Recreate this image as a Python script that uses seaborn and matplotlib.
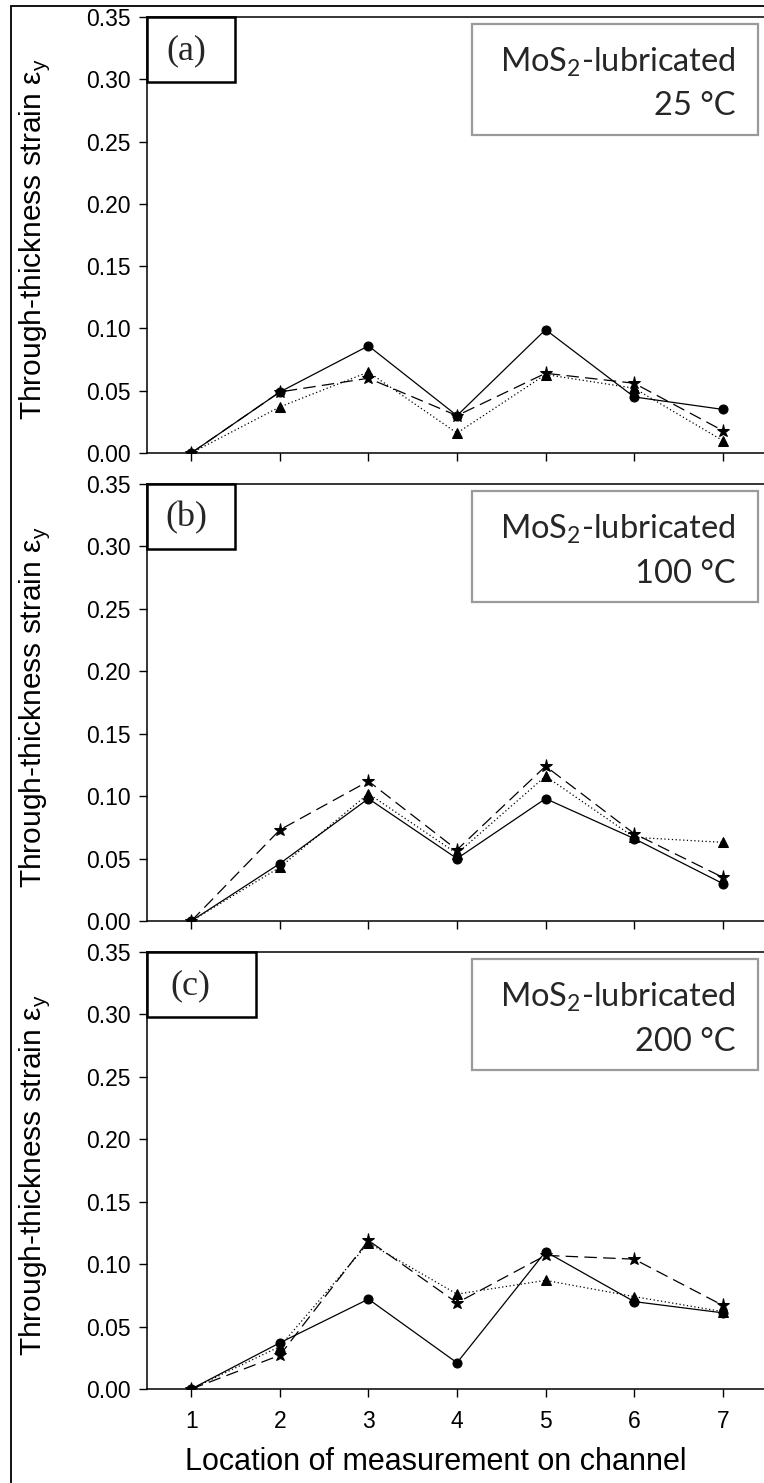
import matplotlib
matplotlib.use("Agg")
import matplotlib.pyplot as plt
from matplotlib.patches import Rectangle
import numpy as np
import pandas as pd
import seaborn as sns

# Measurement locations along the channel
locations = [1, 2, 3, 4, 5, 6, 7]

# Through-thickness strain for three trials at each temperature
a_trial1 = [0.000, 0.049, 0.086, 0.030, 0.099, 0.045, 0.035]
a_trial2 = [0.000, 0.049, 0.060, 0.030, 0.064, 0.056, 0.018]
a_trial3 = [0.000, 0.037, 0.065, 0.016, 0.063, 0.052, 0.010]

b_trial1 = [0.000, 0.046, 0.098, 0.050, 0.098, 0.066, 0.030]
b_trial2 = [0.000, 0.073, 0.112, 0.057, 0.124, 0.070, 0.035]
b_trial3 = [0.000, 0.043, 0.102, 0.054, 0.116, 0.067, 0.063]

c_trial1 = [0.000, 0.037, 0.072, 0.021, 0.110, 0.070, 0.061]
c_trial2 = [0.000, 0.027, 0.119, 0.069, 0.107, 0.104, 0.067]
c_trial3 = [0.000, 0.034, 0.117, 0.076, 0.087, 0.074, 0.062]

panel_tags = ["(a)", "(b)", "(c)"]
temperatures = ["25 °C", "100 °C", "200 °C"]
y_ticks = [0.00, 0.05, 0.10, 0.15, 0.20, 0.25, 0.30, 0.35]

panels = [
    (a_trial1, a_trial2, a_trial3),
    (b_trial1, b_trial2, b_trial3),
    (c_trial1, c_trial2, c_trial3),
]

sns.set_theme(style="ticks")
plt.rcParams["font.family"] = ["Liberation Sans", "DejaVu Sans"]
plt.rcParams["axes.linewidth"] = 1.1
plt.rcParams["xtick.major.width"] = 1.0
plt.rcParams["ytick.major.width"] = 1.0

W, H = 764, 1483
fig = plt.figure(figsize=(W / 100, H / 100), dpi=100)
fig.patch.set_facecolor("white")

# outer frame of the figure
fig.patches.append(Rectangle((11 / W, -0.01), 1.0, 1 - 6 / H + 0.01,
                             transform=fig.transFigure, fill=False,
                             edgecolor="black", linewidth=1.3))

ax_left = 147 / W
ax_width = 620 / W
tops = [17, 484, 952]
bottoms = [453, 921, 1389]

# marker, line style, marker size for each trial
styles = [
    ("o", "-", 6.5),
    ("*", (0, (10, 5)), 9.5),
    ("^", (0, (1, 2)), 7.5),
]

for i, (series, tag, temp) in enumerate(zip(panels, panel_tags, temperatures)):
    t, b = tops[i], bottoms[i]
    ax = fig.add_axes([ax_left, 1 - b / H, ax_width, (b - t) / H])
    ax.set_facecolor("white")
    for vals, (mk, ls, ms) in zip(series, styles):
        df = pd.DataFrame({"location": locations, "strain": vals})
        sns.lineplot(data=df, x="location", y="strain", ax=ax,
                     color="black", linewidth=0.9, linestyle=ls,
                     marker=mk, markersize=ms, markeredgecolor="black",
                     markerfacecolor="black", legend=False)

    ax.set_xlim(0.5, 7.5)
    ax.set_ylim(0, 0.35)
    ax.set_xticks(locations)
    ax.set_yticks(y_ticks)
    ax.set_yticklabels([f"{v:.2f}" for v in y_ticks])
    ax.tick_params(axis="both", direction="out", length=6, colors="black",
                   labelsize=16.5)
    ax.tick_params(axis="y", pad=6)
    ax.tick_params(axis="x", pad=9)
    for side in ["left", "bottom", "top"]:
        ax.spines[side].set_visible(True)
        ax.spines[side].set_color("black")
    ax.spines["right"].set_visible(False)

    ax.set_ylabel("Through-thickness strain ε$_\\mathregular{y}$",
                  fontsize=21.5, color="black")
    ax.yaxis.label.set_va("center")
    ax.yaxis.set_label_coords(-0.181, 0.49)

    if i < 2:
        ax.set_xticklabels([])
        ax.set_xlabel("")
    else:
        ax.set_xticklabels([str(v) for v in locations])
        ax.set_xlabel("Location of measurement on channel", fontsize=22,
                      color="black")
        ax.xaxis.label.set_va("center")
        ax.xaxis.set_label_coords(0.466, -0.167)

    # panel tag box
    box_w = (256 - 147) / 620 if i == 2 else (235 - 147) / 620
    box_h = 65 / 436
    ax.add_patch(Rectangle((0, 1 - box_h), box_w, box_h, transform=ax.transAxes,
                           fill=True, facecolor="white", edgecolor="black",
                           linewidth=1.8, zorder=5, clip_on=False))
    ax.text(box_w * (0.45 if i < 2 else 0.40), 1 - box_h / 2 - 0.003, tag,
            transform=ax.transAxes, ha="center", va="center", fontsize=26,
            family=["Liberation Serif", "DejaVu Serif"], zorder=6)

    # condition box
    ax.add_patch(Rectangle((0.5246, 0.729), 0.986 - 0.5246, 0.984 - 0.729,
                           transform=ax.transAxes, facecolor="white",
                           edgecolor="#9a9a9a", linewidth=1.6, zorder=5))
    ax.text(0.949, 0.897, "MoS$_\\mathregular{2}$-lubricated",
            transform=ax.transAxes, ha="right", va="center", fontsize=23.5,
            family=["Lato", "DejaVu Sans"], zorder=6)
    ax.text(0.949, 0.795, temp, transform=ax.transAxes, ha="right",
            va="center", fontsize=23.5, family=["Lato", "DejaVu Sans"], zorder=6)

fig.savefig("out.png", dpi=100, facecolor="white")
